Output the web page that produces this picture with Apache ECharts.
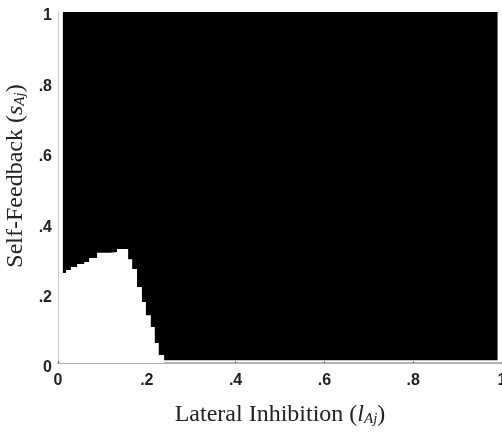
<!DOCTYPE html>
<html>
<head>
<meta charset="utf-8">
<script src="https://cdn.jsdelivr.net/npm/echarts@6/dist/echarts.min.js"></script>
<style>html,body{margin:0;padding:0;background:#fff}#c{width:502px;height:436px}</style>
</head>
<body>
<div id="c"></div>
<script>
// Boundary of the white (stable) region: column start x and column height
var boundaryX = [0.004, 0.018, 0.029, 0.043, 0.059, 0.070, 0.088, 0.117, 0.133, 0.158, 0.167, 0.178, 0.189, 0.198, 0.209, 0.218, 0.227, 0.239];
var boundaryY = [0.256, 0.264, 0.273, 0.281, 0.287, 0.298, 0.313, 0.315, 0.324, 0.295, 0.267, 0.216, 0.173, 0.136, 0.102, 0.057, 0.023, 0.000];
// Extent of the black (unstable) image region
var imageX = [0.011, 0.990];
var imageY = [0.008, 0.997];
var tickLabels = {0: '0', 0.2: '.2', 0.4: '.4', 0.6: '.6', 0.8: '.8', 1: '1'};

function fmt(v) {
  var k = Math.round(v * 10) / 10;
  return tickLabels[k] !== undefined ? tickLabels[k] : '';
}

var chart = echarts.init(document.getElementById('c'), null, {renderer: 'canvas'});
var whiteData = boundaryX.map(function (x, i) { return [x, boundaryY[i]]; });

chart.setOption({
  animation: false,
  backgroundColor: '#fff',
  grid: {left: 58, right: 0, top: 11, bottom: 73, containLabel: false, outerBoundsMode: 'none'},
  xAxis: {
    type: 'value', min: 0, max: 1, interval: 0.2,
    name: '{n|Lateral Inhibition (}{i|l}{s|Aj}{n|)}',
    nameLocation: 'middle', nameGap: 40,
    nameTextStyle: {
      rich: {
        n: {fontFamily: 'Liberation Serif', fontSize: 24, color: '#222'},
        i: {fontFamily: 'Liberation Serif', fontStyle: 'italic', fontSize: 24, color: '#222'},
        s: {fontFamily: 'Liberation Serif', fontStyle: 'italic', fontSize: 15, color: '#222', padding: [9, 0, 0, 0]}
      }
    },
    axisLine: {show: true, lineStyle: {color: '#b0b0b0', width: 2}},
    axisTick: {show: true, inside: true, length: 2, lineStyle: {color: '#777'}},
    splitLine: {show: false},
    axisLabel: {formatter: fmt, fontFamily: 'Liberation Sans', fontWeight: 'bold', fontSize: 16, color: '#222', margin: 10}
  },
  yAxis: {
    type: 'value', min: 0, max: 1, interval: 0.2,
    name: '{n|Self-Feedback (}{i|s}{s|Aj}{n|)}',
    nameLocation: 'middle', nameGap: 30, nameRotate: 90,
    nameTextStyle: {
      padding: [0, 0, 0, 22],
      rich: {
        n: {fontFamily: 'Liberation Serif', fontSize: 24, color: '#222'},
        i: {fontFamily: 'Liberation Serif', fontStyle: 'italic', fontSize: 24, color: '#222'},
        s: {fontFamily: 'Liberation Serif', fontStyle: 'italic', fontSize: 15, color: '#222', padding: [9, 0, 0, 0]}
      }
    },
    axisLine: {show: true, lineStyle: {color: '#bbb', width: 1, type: 'dotted'}},
    axisTick: {show: false},
    splitLine: {show: false},
    axisLabel: {formatter: fmt, fontFamily: 'Liberation Sans', fontWeight: 'bold', fontSize: 16, color: '#222', margin: 6, verticalAlign: 'top', padding: [-3, 0, 0, 0]}
  },
  series: [
    {
      type: 'line', data: [], silent: true,
      markArea: {
        silent: true,
        itemStyle: {color: '#000', opacity: 1},
        data: [[{coord: [imageX[0], imageY[0]]}, {coord: [imageX[1], imageY[1]]}]]
      },
      z: 1
    },
    {
      type: 'line', data: whiteData, step: 'end', showSymbol: false, silent: true,
      lineStyle: {width: 0, color: '#fff'},
      areaStyle: {color: '#fff', opacity: 1},
      z: 5
    }
  ]
});
</script>
</body>
</html>
